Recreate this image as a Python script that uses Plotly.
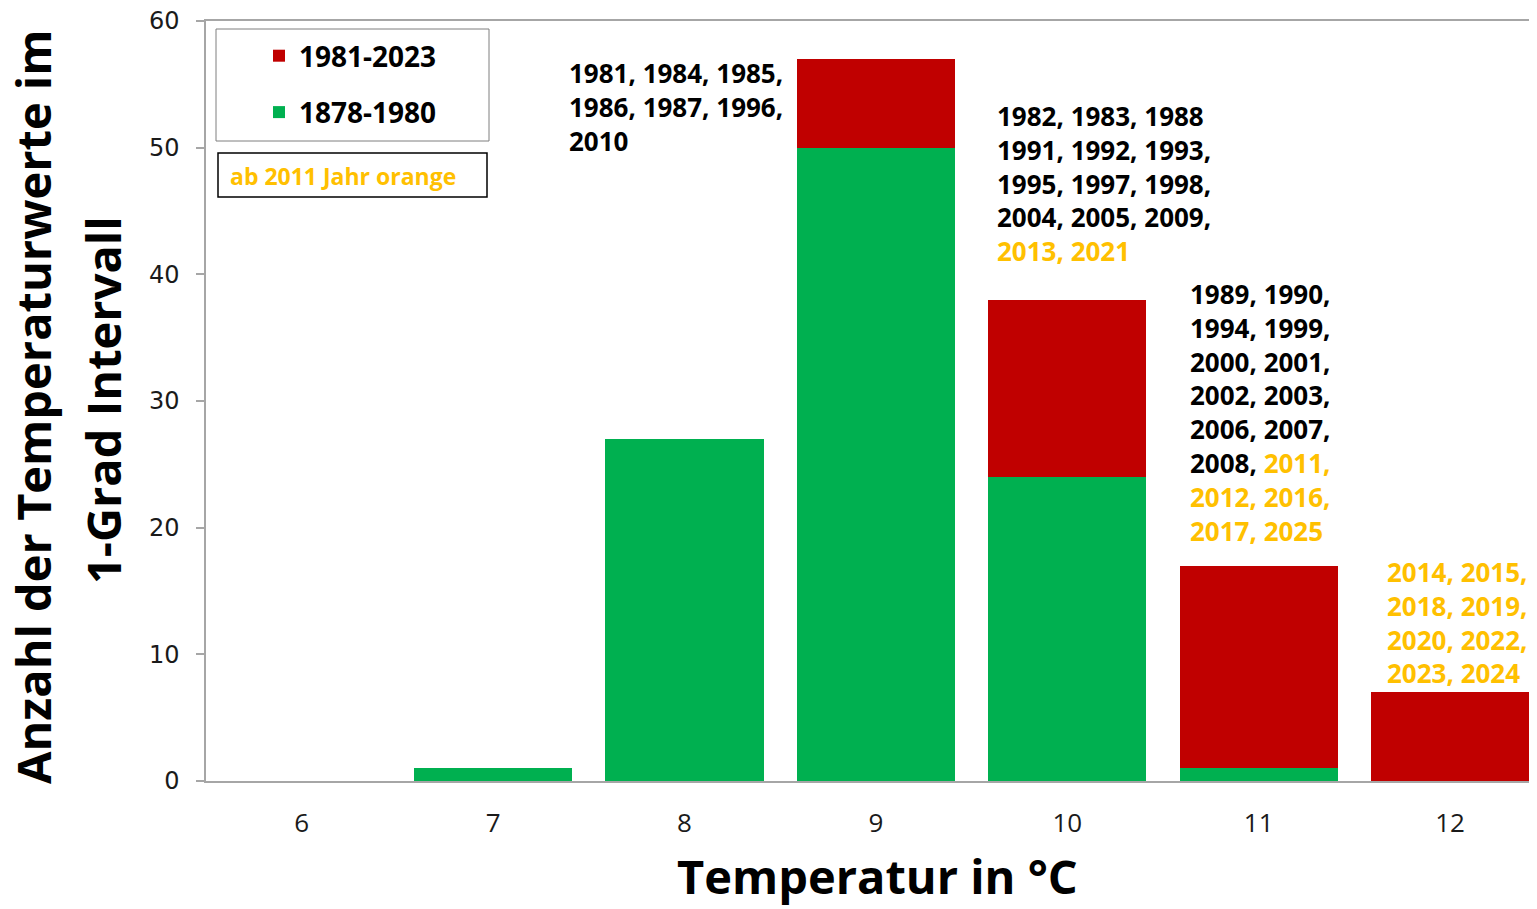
import plotly.graph_objects as go

temps = [6, 7, 8, 9, 10, 11, 12]
tick_labels = ["6", "7", "8", "9", "10", "11", "12"]
old_counts = [0, 1, 27, 50, 24, 1, 0]      # 1878-1980
new_counts = [0, 0, 0, 7, 14, 16, 7]       # 1981-2023
old_name = "1878-1980"
new_name = "1981-2023"

ORANGE = "#FFC000"
o = lambda s: f'<span style="color:{ORANGE}">{s}</span>'

year_texts = [
    (9, "1981, 1984, 1985,<br>1986, 1987, 1996,<br>2010"),
    (10, "1982, 1983, 1988<br>1991, 1992, 1993,<br>1995, 1997, 1998,<br>2004, 2005, 2009,<br>" + o("2013, 2021")),
    (11, "1989, 1990,<br>1994, 1999,<br>2000, 2001,<br>2002, 2003,<br>2006, 2007,<br>2008, " + o("2011,") + "<br>" + o("2012, 2016,") + "<br>" + o("2017, 2025")),
    (12, o("2014, 2015,") + "<br>" + o("2018, 2019,") + "<br>" + o("2020, 2022,") + "<br>" + o("2023, 2024")),
]
# text anchor positions (x in data units, y in data units, top-left of block)
text_pos = {9: (7.386, 57.45), 10: (9.622, 54.05), 11: (10.631, 40.05), 12: (11.660, 18.1)}

FONT = "Open Sans"
GRAY = "#A6A6A6"

# page body has an 8px offset; the plot area runs past the right edge
W, H = 1529, 901
L, T = 198, 13
PW, PH = W - L, 760
X_RANGE = [5.5, 5.5 + PW / 191.4]

def px(xr):  # reference pixel x -> paper
    return (xr - 206) / PW

def py(yr):  # reference pixel y -> paper
    return (781 - yr) / PH

fig = go.Figure()
fig.add_trace(go.Bar(x=temps, y=old_counts, name=old_name, marker_color="#00B050",
                     legendgroup="a", legendrank=2, marker_line_width=0))
fig.add_trace(go.Bar(x=temps, y=new_counts, name=new_name, marker_color="#C00000",
                     legendgroup="b", legendrank=1, marker_line_width=0))

for k, txt in year_texts:
    xp, yp = text_pos[k]
    fig.add_annotation(x=xp, y=yp, xref="x", yref="y", text="<b>" + txt + "</b>",
                       showarrow=False, xanchor="left", yanchor="top", align="left",
                       font=dict(family=FONT, size=26, color="black"))

# y title (two lines)
fig.add_annotation(x=px(33), y=py(407), xref="paper", yref="paper", textangle=-90,
                   text="<b>Anzahl der Temperaturwerte im</b>", showarrow=False,
                   xanchor="center", yanchor="middle",
                   font=dict(family=FONT, size=47, color="black"))
fig.add_annotation(x=px(103), y=py(400), xref="paper", yref="paper", textangle=-90,
                   text="<b>1-Grad Intervall</b>", showarrow=False,
                   xanchor="center", yanchor="middle",
                   font=dict(family=FONT, size=47, color="black"))
# x title
fig.add_annotation(x=px(877), y=py(876), xref="paper", yref="paper",
                   text="<b>Temperatur in °C</b>", showarrow=False,
                   xanchor="center", yanchor="middle",
                   font=dict(family=FONT, size=47, color="black"))

# legend box and note box
fig.add_shape(type="rect", xref="paper", yref="paper",
              x0=px(216), x1=px(489), y0=py(141), y1=py(29),
              line=dict(color="#7F7F7F", width=1))
fig.add_shape(type="rect", xref="paper", yref="paper",
              x0=px(218), x1=px(487), y0=py(197), y1=py(153),
              line=dict(color="black", width=1.5))
fig.add_annotation(x=px(228), y=py(176), xref="paper", yref="paper",
                   text="<b>ab 2011 Jahr orange</b>", showarrow=False,
                   xanchor="left", yanchor="middle",
                   font=dict(family=FONT, size=23, color=ORANGE))

fig.update_layout(
    width=W, height=H,
    margin=dict(l=L, r=0, t=T, b=H - T - PH),
    barmode="stack", bargap=0.174,
    plot_bgcolor="white", paper_bgcolor="white",
    font=dict(family=FONT, color="black"),
    legend=dict(x=px(259), y=py(31), xanchor="left", yanchor="top",
                traceorder="grouped", tracegroupgap=17,
                font=dict(family=FONT, size=28, color="black", weight="bold"),
                bgcolor="rgba(0,0,0,0)", borderwidth=0),
    xaxis=dict(range=X_RANGE, tickvals=temps, ticktext=tick_labels,
               showline=True, linecolor=GRAY, linewidth=1.5, mirror=True,
               ticks="", showgrid=False, zeroline=False,
               tickfont=dict(family=FONT, size=26, color="#1a1a1a"),
               ticklabelstandoff=18),
    yaxis=dict(range=[0, 60], tickvals=[0, 10, 20, 30, 40, 50, 60],
               showline=True, linecolor=GRAY, linewidth=1.5,
               ticks="outside", ticklen=8, tickcolor=GRAY, tickwidth=1.5,
               showgrid=False, zeroline=False, ticklabeloverflow="allow",
               tickfont=dict(family="DejaVu Sans", size=24, color="#1a1a1a"),
               ticklabelstandoff=12),
)

fig.write_html("out.html")
